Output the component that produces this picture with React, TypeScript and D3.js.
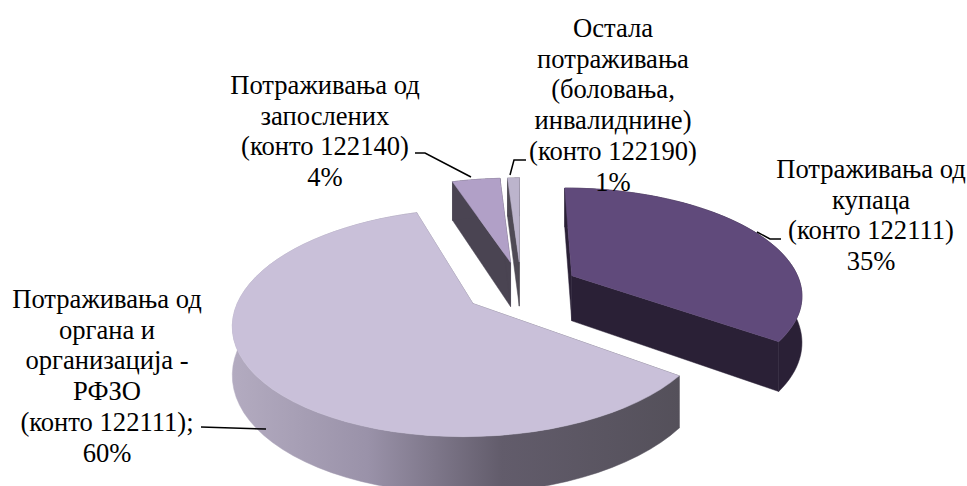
// App.tsx
import React, { useEffect, useRef } from 'react';
import * as d3 from 'd3';

const categories = ['Потраживања од купаца', 'Потраживања од органа и организација - РФЗО', 'Потраживања од запослених', 'Остала потраживања'];
const shares = [35, 60, 4, 1];
const topColors = ['#604a7b', '#c9c0d9', '#b1a0c7', '#bcb4cc'];
const sideColors = ['#2a2036', 'url(#bigSide)', '#4a4452', '#4f4a55'];
const labelLines = [
  ['Потраживања од', 'купаца', '(конто 122111)', '35%'],
  ['Потраживања од', 'органа и', 'организација -', 'РФЗО', '(конто 122111);', '60%'],
  ['Потраживања од', 'запослених', '(конто 122140)', '4%'],
  ['Остала', 'потраживања', '(боловања,', 'инвалиднине)', '(конто 122190)', '1%'],
];

const width = 967;
const height = 486;

// camera for the tilted pie
const centerX = 521;
const centerY = 287.5;
const radius = 230;
const explode = 58;
const thickness = 46;
const camDist = 1406;
const camHeight = 645;

const project = (x: number, y: number, z: number): [number, number] => {
  const s = camDist / (camDist - y);
  return [centerX + x * s, centerY - camHeight + (camHeight + z) * s];
};

const App = () => {
  const svgRef = useRef<SVGSVGElement>(null);

  useEffect(() => {
    const svg = d3.select(svgRef.current);
    svg.selectAll('*').remove();

    const grad = svg.append('defs').append('linearGradient')
      .attr('id', 'bigSide')
      .attr('gradientUnits', 'userSpaceOnUse')
      .attr('x1', 233).attr('x2', 681).attr('y1', 0).attr('y2', 0);
    grad.append('stop').attr('offset', '0').attr('stop-color', '#b3abc0');
    grad.append('stop').attr('offset', '0.3').attr('stop-color', '#9a92a9');
    grad.append('stop').attr('offset', '0.6').attr('stop-color', '#625c6b');
    grad.append('stop').attr('offset', '1').attr('stop-color', '#54505a');

    const pie = d3.pie<number>().sort(null);
    const arcs = pie(shares);
    const line = d3.line();

    // back slices first
    const order = [3, 2, 0, 1];

    order.forEach(i => {
      const a = arcs[i];
      const mid = (a.startAngle + a.endAngle) / 2;
      const ox = explode * Math.sin(mid);
      const oy = -explode * Math.cos(mid);
      const rim = (t: number): [number, number] => [ox + radius * Math.sin(t), oy - radius * Math.cos(t)];
      const angles = d3.range(0, 61).map(k => a.startAngle + (a.endAngle - a.startAngle) * k / 60);

      const top = angles.map(t => { const p = rim(t); return project(p[0], p[1], 0); });
      const bottom = angles.map(t => { const p = rim(t); return project(p[0], p[1], thickness); });
      const apexTop = project(ox, oy, 0);
      const apexBottom = project(ox, oy, thickness);
      const g = svg.append('g');
      const fill = sideColors[i];

      const walls: [number, number][][] = [
        [apexTop, top[0], bottom[0], apexBottom],
        [apexTop, top[60], bottom[60], apexBottom],
        [...top, ...bottom.slice().reverse()],
      ];
      walls.forEach(w => {
        g.append('path').attr('d', line(w) + 'Z').attr('fill', fill).attr('stroke', fill).attr('stroke-width', 0.5);
      });
      g.append('path')
        .attr('d', line([apexTop, ...top]) + 'Z')
        .attr('fill', topColors[i])
        .attr('stroke', topColors[i])
        .attr('stroke-width', 0.5)
        .append('title').text(categories[i]);
    });

    // leader lines
    const leaders: [number, number][][] = [
      [[757, 232], [770, 239], [781, 239]],
      [[201, 427], [266, 429]],
      [[415, 153], [425, 153], [471, 177]],
      [[526, 160], [514, 160], [510, 175]],
    ];
    svg.selectAll('path.leader')
      .data(leaders)
      .enter()
      .append('path')
      .attr('class', 'leader')
      .attr('d', d => line(d))
      .attr('fill', 'none')
      .attr('stroke', '#000')
      .attr('stroke-width', 1.5);

    // label blocks: centre x and baseline of the first line
    const labelPos = [[871, 178], [107, 308], [325, 94], [613, 37]];
    const lineStep = 30.7;
    labelLines.forEach((lines, i) => {
      const text = svg.append('text')
        .attr('text-anchor', 'middle')
        .attr('font-family', '"Liberation Serif", "Times New Roman", serif')
        .attr('font-size', 26.6)
        .attr('fill', '#000');
      lines.forEach((l, k) => {
        text.append('tspan')
          .attr('x', labelPos[i][0])
          .attr('y', labelPos[i][1] + k * lineStep)
          .text(l);
      });
    });
  }, []);

  return (
    <svg
      ref={svgRef}
      width={width}
      height={height}
      style={{ position: 'absolute', left: 0, top: 0, background: '#fff' }}
    />
  );
};

export default App;
